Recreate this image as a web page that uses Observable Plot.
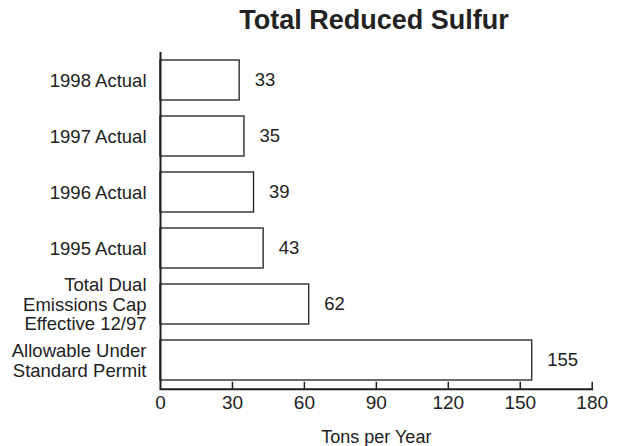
<!DOCTYPE html>
<html>
<head>
<meta charset="utf-8">
<script src="https://cdn.jsdelivr.net/npm/d3@7"></script>
<script src="https://cdn.jsdelivr.net/npm/@observablehq/plot@0.6"></script>
<style>
  html, body { margin: 0; padding: 0; background: #fff; overflow: hidden; }
  #title {
    width: 627px; box-sizing: border-box; padding-left: 121px;
    height: 40px; line-height: 40px; text-align: center;
    font-family: "Liberation Sans", Arial, sans-serif; font-weight: bold;
    font-size: 27px; color: #222;
  }
</style>
</head>
<body>
<div id="title">Total Reduced Sulfur</div>
<div id="chart"></div>
<script>
const categories = [
  "1998 Actual",
  "1997 Actual",
  "1996 Actual",
  "1995 Actual",
  "Total Dual\nEmissions Cap\nEffective 12/97",
  "Allowable Under\nStandard Permit"
];
const values = [33, 35, 39, 43, 62, 155];
const xTicks = [0, 30, 60, 90, 120, 150, 180];
const xLabel = "Tons per Year";

const data = categories.map((c, i) => ({category: c, value: values[i]}));

const W = 627, H = 406, mT = 11.94, mB = 57.24, mL = 160, mR = 35.3;
const frameH = H - mT - mB;
const ink = "#1e1e1e";

const chart = Plot.plot({
  width: W, height: H,
  marginLeft: mL, marginRight: mR, marginTop: mT, marginBottom: mB,
  style: {fontFamily: "'Liberation Sans', Arial, sans-serif", fontSize: "18px", color: "#222", background: "white"},
  x: {domain: [0, 180]},
  y: {domain: categories, paddingInner: 0.285, paddingOuter: 0.125},
  marks: [
    Plot.barX(data, {x: "value", y: "category", fill: "white", stroke: ink, strokeWidth: 1.3}),
    Plot.ruleX([0], {stroke: ink, strokeWidth: 2}),
    Plot.frame({anchor: "bottom", stroke: ink, strokeWidth: 2}),
    Plot.ruleX(xTicks.slice(1), {x: d => d, insetTop: frameH - 7, stroke: ink, strokeWidth: 1.5}),
    Plot.axisX({ticks: xTicks, tickSize: 0, tickPadding: 6, fontSize: 19, label: null}),
    Plot.axisY({tickSize: 0, tickPadding: 14, fontSize: 18.5, lineHeight: 1.06, label: null}),
    Plot.text(data, {x: "value", y: "category", text: d => String(d.value), dx: 15, textAnchor: "start", fontSize: 18.5, fill: "#222"}),
    Plot.text([xLabel], {frameAnchor: "bottom", lineAnchor: "top", dy: 41, fontSize: 18, fill: "#222"})
  ]
});
document.getElementById("chart").appendChild(chart);
</script>
</body>
</html>
